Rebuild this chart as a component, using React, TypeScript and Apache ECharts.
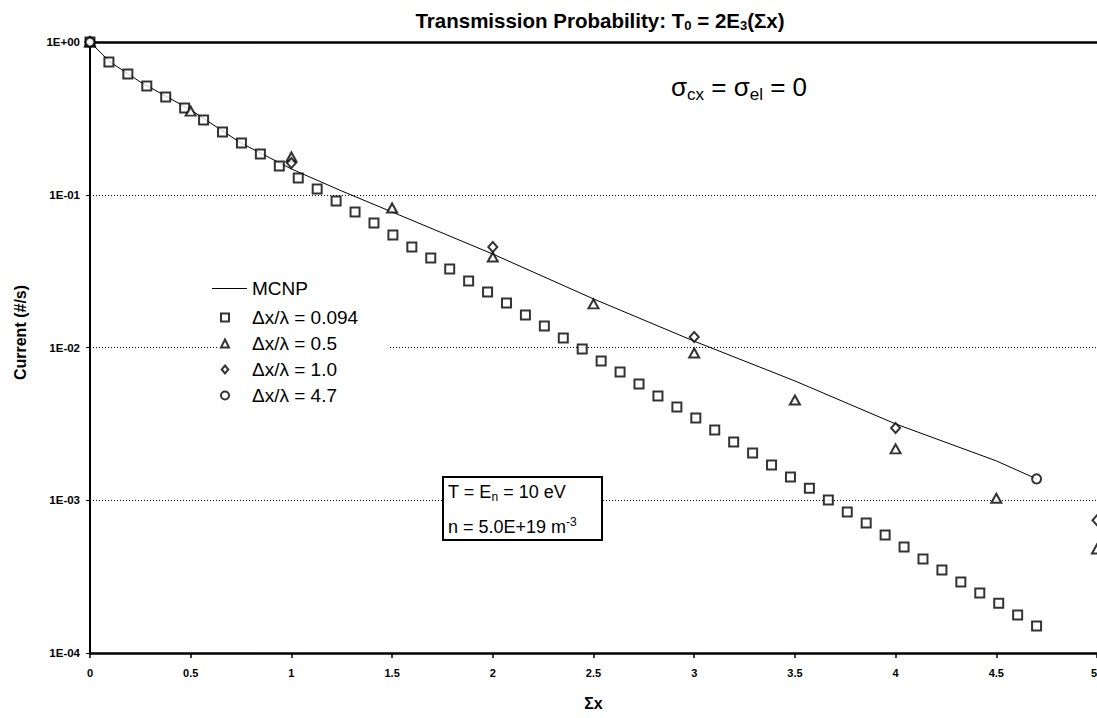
import React, { useEffect, useRef } from "react";
import * as echarts from "echarts";

// ---------- data ----------
const mcnpX = [0, 0.1, 0.25, 0.5, 0.75, 1.0, 1.25, 1.5, 2.0, 2.5, 3.0, 3.5, 4.0, 4.5, 4.7];
const mcnpY = [1.0, 0.74, 0.547, 0.359, 0.218, 0.1475, 0.1058, 0.0771, 0.0409, 0.0208, 0.0110, 0.00604, 0.00316, 0.00181, 0.00138];

const sqX = [0, 0.094, 0.188, 0.282, 0.376, 0.47, 0.564, 0.658, 0.752, 0.846, 0.94, 1.034, 1.128, 1.222, 1.316, 1.41, 1.504, 1.598, 1.692, 1.786, 1.88, 1.974, 2.068, 2.162, 2.256, 2.35, 2.444, 2.538, 2.632, 2.726, 2.82, 2.914, 3.008, 3.102, 3.196, 3.29, 3.384, 3.478, 3.572, 3.666, 3.76, 3.854, 3.948, 4.042, 4.136, 4.23, 4.324, 4.418, 4.512, 4.606, 4.7];
const sqY = [1.0, 0.74, 0.617, 0.515, 0.436, 0.37, 0.3085, 0.2574, 0.2182, 0.1848, 0.1543, 0.1287, 0.109, 0.091, 0.0771, 0.0653, 0.0545, 0.0455, 0.0385, 0.0327, 0.0272, 0.0231, 0.01956, 0.01632, 0.01383, 0.01154, 0.00978, 0.00816, 0.00691, 0.00577, 0.00481, 0.00408, 0.00346, 0.00288, 0.00241, 0.00204, 0.0017, 0.00142, 0.0012, 0.001004, 0.000838, 0.00071, 0.000592, 0.000494, 0.000412, 0.000349, 0.000292, 0.000247, 0.000212, 0.000177, 0.00015];

const triX = [0, 0.5, 1.0, 1.5, 2.0, 2.5, 3.0, 3.5, 4.0, 4.5, 5.0];
const triY = [1.0, 0.353, 0.1767, 0.0819, 0.0391, 0.0193, 0.0092, 0.00453, 0.00217, 0.00103, 0.00048];

const diaX = [0, 1.0, 2.0, 3.0, 4.0, 5.0];
const diaY = [1.0, 0.1614, 0.0455, 0.0117, 0.00297, 0.00074];

const cirX = [0, 4.7];
const cirY = [1.0, 0.00138];

const xTicks = [0, 0.5, 1, 1.5, 2, 2.5, 3, 3.5, 4, 4.5, 5];
const seriesNames = ["MCNP", "Δx/λ = 0.094", "Δx/λ = 0.5", "Δx/λ = 1.0", "Δx/λ = 4.7"];

const FONT = '"Liberation Sans", Arial, Helvetica, sans-serif';

const ICON_SQUARE = "path://M0,0L10,0L10,10L0,10Z";
const ICON_TRI = "path://M5,0L10,10L0,10Z";
const ICON_DIA = "path://M5,0L10,6L5,12L0,6Z";
const ICON_CIR = "path://M0,5A5,5,0,1,1,10,5A5,5,0,1,1,0,5Z";

const zip = (xs: number[], ys: number[]) => xs.map((x, i) => [x, ys[i]]);

export default function App() {
  const ref = useRef<HTMLDivElement>(null);
  useEffect(() => {
    if (!ref.current) return;
    const chart = echarts.init(ref.current, undefined, { renderer: "svg", width: 1097, height: 718 });
    const markerStyle = { color: "#fff", borderColor: "#000", borderWidth: 2 };
    const legendText = { fontFamily: FONT, fontSize: 19, color: "#000" };
    const option: any = {
      animation: false,
      backgroundColor: "#fff",
      textStyle: { fontFamily: FONT },
      title: {
        text: "{t|Transmission Probability: T}{s|0}{t| = 2E}{s|3}{t|(Σx)}",
        left: 595,
        textAlign: "center",
        top: 3,
        textStyle: {
          rich: {
            t: { fontFamily: FONT, fontWeight: "bold", fontSize: 20.5, color: "#000" },
            s: { fontFamily: FONT, fontWeight: "bold", fontSize: 13, color: "#000", padding: [11, 0, 0, 0] },
          },
        },
      },
      grid: { left: 90, right: 0, top: 42, bottom: 65, containLabel: false, outerBoundsMode: "none" },
      legend: [
        {
          data: [{ name: seriesNames[0], icon: "rect" }],
          left: 212,
          top: 279,
          padding: 0,
          itemWidth: 35,
          itemHeight: 1.2,
          selectedMode: false,
          textStyle: legendText,
        },
        {
          data: [
            { name: seriesNames[1], icon: ICON_SQUARE },
            { name: seriesNames[2], icon: ICON_TRI },
            { name: seriesNames[3], icon: ICON_DIA },
            { name: seriesNames[4], icon: ICON_CIR },
          ],
          orient: "vertical",
          left: 217,
          top: 302,
          padding: [6, 30, 6, 3],
          itemGap: 7,
          itemWidth: 44,
          itemHeight: 8,
          symbolKeepAspect: true,
          selectedMode: false,
          backgroundColor: "#fff",
          textStyle: legendText,
        },
      ],
      xAxis: [
        {
          type: "value",
          min: 0,
          max: 5,
          interval: 0.5,
          position: "bottom",
          name: "Σx",
          nameLocation: "middle",
          nameGap: 42,
          nameTextStyle: { fontFamily: FONT, fontWeight: "bold", fontSize: 16, color: "#000" },
          axisLine: { show: true, lineStyle: { color: "#000", width: 2.5 } },
          axisTick: { show: true, length: 5, lineStyle: { color: "#000", width: 1.5 } },
          axisLabel: {
            margin: 14,
            fontFamily: FONT,
            fontWeight: "bold",
            fontSize: 11,
            color: "#000",
            alignMaxLabel: "right",
            formatter: (v: number) => (xTicks.includes(v) ? String(v) : ""),
          },
          splitLine: { show: false },
        },
        {
          type: "value",
          min: 0,
          max: 5,
          position: "top",
          axisLine: { show: true, lineStyle: { color: "#000", width: 2.5 } },
          axisTick: { show: false },
          axisLabel: { show: false },
          splitLine: { show: false },
        },
      ],
      yAxis: {
        type: "log",
        logBase: 10,
        min: 0.0001,
        max: 1,
        name: "Current (#/s)",
        nameLocation: "middle",
        nameGap: 62,
        nameTextStyle: { fontFamily: FONT, fontWeight: "bold", fontSize: 16, color: "#000", padding: [0, 0, 0, 30] },
        axisLine: { show: true, lineStyle: { color: "#000", width: 2 } },
        axisTick: { show: true, length: 4, lineStyle: { color: "#000", width: 1 } },
        axisLabel: {
          margin: 10,
          fontFamily: FONT,
          fontWeight: "bold",
          fontSize: 11.5,
          color: "#000",
          formatter: (v: number) => {
            const e = Math.round(Math.log10(v));
            return "1E" + (e >= 0 ? "+" : "-") + String(Math.abs(e)).padStart(2, "0");
          },
        },
        splitLine: { show: true, lineStyle: { color: "#000", width: 1, type: [1, 2] } },
        minorTick: { show: false },
        minorSplitLine: { show: false },
      },
      series: [
        {
          name: seriesNames[0],
          type: "line",
          data: zip(mcnpX, mcnpY),
          symbol: "none",
          lineStyle: { color: "#000", width: 1 },
          itemStyle: { color: "#000" },
          z: 2,
        },
        {
          name: seriesNames[1],
          type: "scatter",
          data: zip(sqX, sqY),
          symbol: "rect",
          symbolSize: 9,
          itemStyle: markerStyle,
          z: 3,
        },
        {
          name: seriesNames[2],
          type: "scatter",
          data: zip(triX, triY),
          symbol: "triangle",
          symbolSize: [10, 9],
          itemStyle: markerStyle,
          z: 4,
        },
        {
          name: seriesNames[3],
          type: "scatter",
          data: zip(diaX, diaY),
          symbol: "diamond",
          symbolSize: [9, 10],
          itemStyle: markerStyle,
          z: 5,
        },
        {
          name: seriesNames[4],
          type: "scatter",
          data: zip(cirX, cirY),
          symbol: "circle",
          symbolSize: 9,
          itemStyle: markerStyle,
          z: 6,
        },
      ],
      graphic: [
        {
          type: "text",
          x: 671,
          y: 87,
          z: 10,
          style: {
            text: "{m|σ}{sub|cx}{m| = σ}{sub|el}{m| = 0}",
            verticalAlign: "middle",
            fill: "#000",
            rich: {
              m: { fontFamily: FONT, fontSize: 26, fill: "#000" },
              sub: { fontFamily: FONT, fontSize: 17, fill: "#000", padding: [14, 0, 0, 0] },
            },
          },
        },
        {
          type: "rect",
          z: 10,
          shape: { x: 443, y: 477, width: 159, height: 63 },
          style: { fill: "#fff", stroke: "#000", lineWidth: 2 },
        },
        {
          type: "text",
          x: 448,
          y: 492,
          z: 11,
          style: {
            text: "{main|T = E}{low|n}{main| = 10 eV}",
            verticalAlign: "middle",
            fill: "#000",
            rich: {
              main: { fontFamily: FONT, fontSize: 18, fill: "#000" },
              low: { fontFamily: FONT, fontSize: 12, fill: "#000", padding: [10, 0, 0, 0] },
            },
          },
        },
        {
          type: "text",
          x: 448,
          y: 527,
          z: 11,
          style: {
            text: "{main|n = 5.0E+19 m}{high|-3}",
            verticalAlign: "middle",
            fill: "#000",
            rich: {
              main: { fontFamily: FONT, fontSize: 18, fill: "#000" },
              high: { fontFamily: FONT, fontSize: 12, fill: "#000", padding: [0, 0, 10, 0] },
            },
          },
        },
      ],
    };
    chart.setOption(option);
    return () => chart.dispose();
  }, []);
  return (
    <div
      ref={ref}
      style={{ position: "fixed", left: 0, top: 0, width: 1097, height: 718, background: "#fff" }}
    />
  );
}
